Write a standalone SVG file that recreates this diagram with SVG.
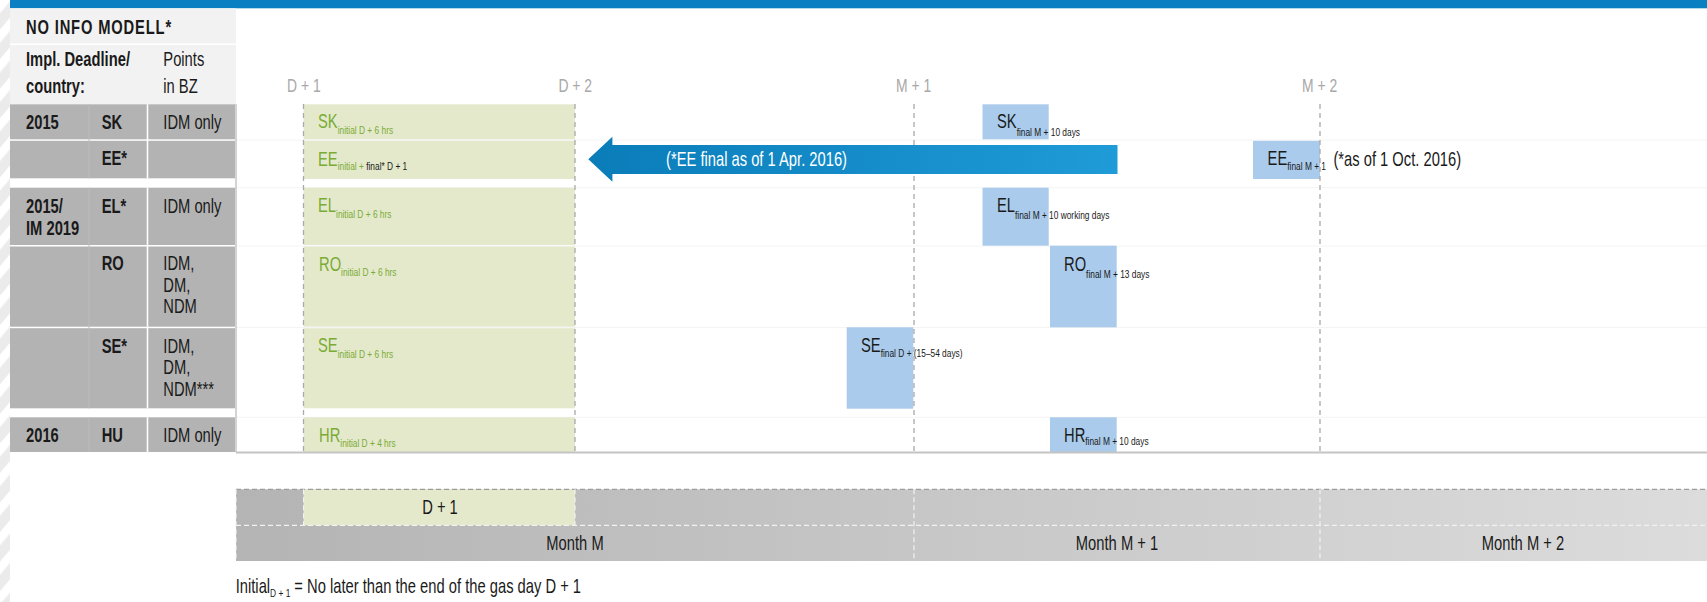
<svg xmlns="http://www.w3.org/2000/svg" width="1707" height="602" viewBox="0 0 1707 602">
  <defs>
    <style>
      .t { font-family: "Liberation Sans", Arial, sans-serif; font-size: 19.4px; fill: #1a1a1a; }
      .b { font-weight: bold; }
      .ax { font-size: 18.3px; fill: #a8a8a8; }
      .g { fill: #7aab35; }
      .w { fill: #ffffff; }
      .sub { font-size: 11px; }
      .row { fill: #b3b3b3; }
      .ini { fill: #e4e9cc; }
      .fin { fill: #aacbeb; }
      .grid { stroke: #a9a9a9; stroke-width: 1.3; stroke-dasharray: 5 4; fill: none; }
      .rule { stroke: #f4f4f4; stroke-width: 1; }
      .wdash { stroke: #f2f2f2; stroke-width: 1.2; stroke-dasharray: 5 3; fill: none; }
    </style>
    <pattern id="stripes" width="19" height="19" patternUnits="userSpaceOnUse" patternTransform="rotate(40)">
      <rect width="19" height="19" fill="#ebebeb"/>
      <rect width="8.5" height="19" fill="#ffffff"/>
    </pattern>
    <linearGradient id="arrowFill" x1="0" y1="0" x2="1" y2="0">
      <stop offset="0" stop-color="#0a7db9"/>
      <stop offset="1" stop-color="#1f9bd8"/>
    </linearGradient>
    <linearGradient id="barFill" x1="236" y1="0" x2="1707" y2="0" gradientUnits="userSpaceOnUse">
      <stop offset="0" stop-color="#b4b4b4"/>
      <stop offset="1" stop-color="#dcdcdc"/>
    </linearGradient>
  </defs>

  <!-- page; all labels use a narrowed sans (scale 0.76 horizontally about their anchor) -->
  <rect width="1707" height="602" fill="#ffffff"/>
  <rect x="0" y="0" width="10" height="602" fill="url(#stripes)"/>
  <rect x="10" y="0" width="1697" height="8.3" fill="#0a80c2"/>

  <!-- header panel -->
  <g id="header">
    <rect x="10" y="8.3" width="226" height="95.7" fill="#f2f2f2"/>
    <line x1="10" y1="44.3" x2="236" y2="44.3" stroke="#ffffff" stroke-width="1.5"/>
    <text class="t b" transform="translate(26 33.5) scale(0.76 1)" font-size="18.3px" letter-spacing="1.1">NO INFO MODELL*</text>
    <text class="t b" transform="translate(26 66) scale(0.76 1)">Impl. Deadline/</text>
    <text class="t b" transform="translate(26 92.7) scale(0.76 1)">country:</text>
    <text class="t" transform="translate(163.3 66) scale(0.76 1)">Points</text>
    <text class="t" transform="translate(163.3 92.7) scale(0.76 1)">in BZ</text>
  </g>

  <!-- faint row rules across the timeline -->
  <g id="rules">
    <line class="rule" x1="236" y1="140" x2="1707" y2="140"/>
    <line class="rule" x1="236" y1="187.7" x2="1707" y2="187.7"/>
    <line class="rule" x1="236" y1="246" x2="1707" y2="246"/>
    <line class="rule" x1="236" y1="327.5" x2="1707" y2="327.5"/>
    <line class="rule" x1="236" y1="417.3" x2="1707" y2="417.3"/>
  </g>

  <!-- country table -->
  <g id="table">
    <rect class="row" x="10" y="104.3" width="225" height="35"/>
    <rect class="row" x="10" y="140.8" width="225" height="37.5"/>
    <rect class="row" x="10" y="187.7" width="225" height="57.3"/>
    <rect class="row" x="10" y="246.5" width="225" height="80.2"/>
    <rect class="row" x="10" y="328.2" width="225" height="80.1"/>
    <rect class="row" x="10" y="417.3" width="225" height="34.7"/>
    <g stroke="#bcbcbc" stroke-width="1">
      <line x1="89" y1="104.3" x2="89" y2="178.3"/>
      <line x1="89" y1="187.7" x2="89" y2="408.3"/>
      <line x1="89" y1="417.3" x2="89" y2="452"/>
    </g>
    <g stroke="#ffffff" stroke-width="1.6">
      <line x1="147.5" y1="104.3" x2="147.5" y2="178.3"/>
      <line x1="147.5" y1="187.7" x2="147.5" y2="408.3"/>
      <line x1="147.5" y1="417.3" x2="147.5" y2="452"/>
    </g>
  </g>

  <g id="row-sk">
    <text class="t b" transform="translate(26 128.5) scale(0.76 1)">2015</text>
    <text class="t b" transform="translate(101.7 128.5) scale(0.76 1)">SK</text>
    <text class="t" transform="translate(163.3 128.5) scale(0.76 1)">IDM only</text>
  </g>
  <g id="row-ee">
    <text class="t b" transform="translate(101.7 165) scale(0.76 1)">EE*</text>
  </g>
  <g id="row-el">
    <text class="t b" transform="translate(26 213) scale(0.76 1)">2015/</text>
    <text class="t b" transform="translate(26 234.5) scale(0.76 1)">IM 2019</text>
    <text class="t b" transform="translate(101.7 213) scale(0.76 1)">EL*</text>
    <text class="t" transform="translate(163.3 213) scale(0.76 1)">IDM only</text>
  </g>
  <g id="row-ro">
    <text class="t b" transform="translate(101.7 270) scale(0.76 1)">RO</text>
    <text class="t" transform="translate(163.3 270) scale(0.76 1)">IDM,</text>
    <text class="t" transform="translate(163.3 291.7) scale(0.76 1)">DM,</text>
    <text class="t" transform="translate(163.3 313.4) scale(0.76 1)">NDM</text>
  </g>
  <g id="row-se">
    <text class="t b" transform="translate(101.7 352.7) scale(0.76 1)">SE*</text>
    <text class="t" transform="translate(163.3 352.7) scale(0.76 1)">IDM,</text>
    <text class="t" transform="translate(163.3 374.4) scale(0.76 1)">DM,</text>
    <text class="t" transform="translate(163.3 396.1) scale(0.76 1)">NDM***</text>
  </g>
  <g id="row-hu">
    <text class="t b" transform="translate(26 441.7) scale(0.76 1)">2016</text>
    <text class="t b" transform="translate(101.7 441.7) scale(0.76 1)">HU</text>
    <text class="t" transform="translate(163.3 441.7) scale(0.76 1)">IDM only</text>
  </g>

  <!-- initial D+1 band -->
  <g id="initial">
    <rect class="ini" x="303.5" y="104.3" width="271.5" height="35"/>
    <rect class="ini" x="303.5" y="140.8" width="271.5" height="38.2"/>
    <rect class="ini" x="303.5" y="187.7" width="271.5" height="57.3"/>
    <rect class="ini" x="303.5" y="246.5" width="271.5" height="80.2"/>
    <rect class="ini" x="303.5" y="328.2" width="271.5" height="80.1"/>
    <rect class="ini" x="303.5" y="417.3" width="271.5" height="34.7"/>
    <text class="t g" transform="translate(318 128) scale(0.76 1)">SK<tspan class="sub" dy="6">initial D + 6 hrs</tspan></text>
    <text class="t g" transform="translate(318 166) scale(0.76 1)">EE<tspan class="sub" dy="4">initial + </tspan><tspan class="sub" fill="#1a1a1a">final* D + 1</tspan></text>
    <text class="t g" transform="translate(318 211.7) scale(0.76 1)">EL<tspan class="sub" dy="6.6">initial D + 6 hrs</tspan></text>
    <text class="t g" transform="translate(319 271) scale(0.76 1)">RO<tspan class="sub" dy="5">initial D + 6 hrs</tspan></text>
    <text class="t g" transform="translate(318 351.7) scale(0.76 1)">SE<tspan class="sub" dy="5.9">initial D + 6 hrs</tspan></text>
    <text class="t g" transform="translate(319 441.7) scale(0.76 1)">HR<tspan class="sub" dy="5">initial D + 4 hrs</tspan></text>
  </g>

  <!-- final submission boxes -->
  <g id="final-sk">
    <rect class="fin" x="982.5" y="104.3" width="66.2" height="35"/>
    <text class="t" transform="translate(997 128) scale(0.76 1)">SK<tspan class="sub" dy="7.5">final M + 10 days</tspan></text>
  </g>
  <g id="final-ee">
    <rect class="fin" x="1253" y="140.8" width="67" height="38.2"/>
    <text class="t" transform="translate(1267.6 165) scale(0.76 1)">EE<tspan class="sub" dy="4.5">final M + 1</tspan></text>
    <text class="t" transform="translate(1333.4 166) scale(0.76 1)">(*as of 1 Oct. 2016)</text>
  </g>
  <g id="final-el">
    <rect class="fin" x="982.5" y="187.7" width="66.2" height="58"/>
    <text class="t" transform="translate(997 211.7) scale(0.76 1)">EL<tspan class="sub" dy="7.6">final M + 10 working days</tspan></text>
  </g>
  <g id="final-ro">
    <rect class="fin" x="1050" y="245.7" width="66.7" height="81.6"/>
    <text class="t" transform="translate(1064 271) scale(0.76 1)">RO<tspan class="sub" dy="7.3">final M + 13 days</tspan></text>
  </g>
  <g id="final-se">
    <rect class="fin" x="846.7" y="327.3" width="66.6" height="81.4"/>
    <text class="t" transform="translate(861 351.7) scale(0.76 1)">SE<tspan class="sub" dy="5">final D + (15–54 days)</tspan></text>
  </g>
  <g id="final-hr">
    <rect class="fin" x="1050" y="417.3" width="66.7" height="35"/>
    <text class="t" transform="translate(1064 441.7) scale(0.76 1)">HR<tspan class="sub" dy="3">final M + 10 days</tspan></text>
  </g>

  <!-- time axis -->
  <g id="axis">
    <text class="t ax" transform="translate(287 92) scale(0.76 1)">D + 1</text>
    <text class="t ax" transform="translate(558.4 92) scale(0.76 1)">D + 2</text>
    <text class="t ax" transform="translate(896 92) scale(0.76 1)">M + 1</text>
    <text class="t ax" transform="translate(1302 92) scale(0.76 1)">M + 2</text>
    <line class="grid" x1="303.5" y1="104" x2="303.5" y2="452"/>
    <line class="grid" x1="575" y1="104" x2="575" y2="452"/>
    <line class="grid" x1="914" y1="104" x2="914" y2="452"/>
    <line class="grid" x1="1320" y1="104" x2="1320" y2="452"/>
    <line x1="236" y1="104" x2="236" y2="452.5" stroke="#a8a8a8" stroke-width="1"/>
    <line x1="236" y1="452.5" x2="1707" y2="452.5" stroke="#c4c4c4" stroke-width="1.8"/>
  </g>

  <!-- EE shift arrow -->
  <g id="connectors">
    <polygon points="588.3,159.3 612.4,136.7 612.4,145 1117.5,145 1117.5,174 612.4,174 612.4,181.7" fill="url(#arrowFill)"/>
    <text class="t w" transform="translate(666 166) scale(0.76 1)" font-size="20px">(*EE final as of 1 Apr. 2016)</text>
  </g>

  <!-- period bar -->
  <g id="period-bar">
    <rect x="236" y="489.3" width="1471" height="71.7" fill="url(#barFill)"/>
    <rect class="ini" x="303.6" y="489.3" width="271.4" height="36"/>
    <line x1="236" y1="489.3" x2="1707" y2="489.3" stroke="#9d9d9d" stroke-width="1.2" stroke-dasharray="5 3"/>
    <line class="wdash" x1="236" y1="525.3" x2="1707" y2="525.3"/>
    <line class="wdash" x1="236" y1="489.3" x2="236" y2="561"/>
    <line class="wdash" x1="303.6" y1="489.3" x2="303.6" y2="525.3"/>
    <line class="wdash" x1="575" y1="489.3" x2="575" y2="525.3"/>
    <line class="wdash" x1="914" y1="489.3" x2="914" y2="561"/>
    <line class="wdash" x1="1320" y1="489.3" x2="1320" y2="561"/>
    <text class="t" transform="translate(440 514) scale(0.76 1)" text-anchor="middle">D + 1</text>
    <text class="t" transform="translate(575 550) scale(0.76 1)" text-anchor="middle">Month M</text>
    <text class="t" transform="translate(1117 550) scale(0.76 1)" text-anchor="middle">Month M + 1</text>
    <text class="t" transform="translate(1523 550) scale(0.76 1)" text-anchor="middle">Month M + 2</text>
  </g>

  <!-- footnote -->
  <text id="footnote" class="t" transform="translate(235.7 593.3) scale(0.76 1)">Initial<tspan class="sub" dy="3.4" font-size="9.7px">D + 1</tspan><tspan dy="-3.4"> = No later than the end of the gas day D + 1</tspan></text>
</svg>
